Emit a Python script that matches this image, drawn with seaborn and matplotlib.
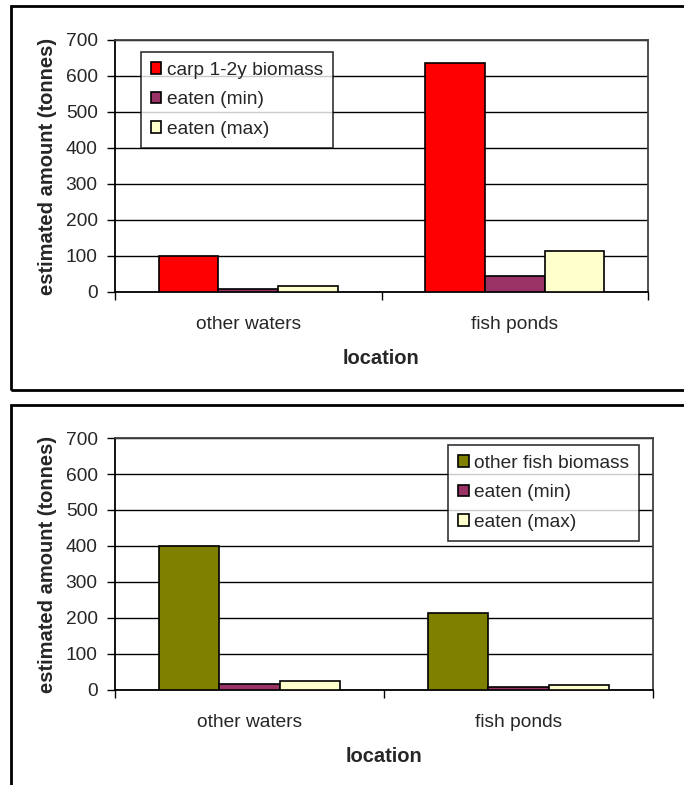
import numpy as np
import pandas as pd
import seaborn as sns
import matplotlib.pyplot as plt
from matplotlib.patches import Rectangle

locations = ["other waters", "fish ponds"]
yticks = [0, 100, 200, 300, 400, 500, 600, 700]

# top panel: carp
carp_labels = ["carp 1-2y biomass", "eaten (min)", "eaten (max)"]
carp_biomass = [100, 637]
carp_eaten_min = [8, 44]
carp_eaten_max = [18, 113]

# bottom panel: other fish
other_labels = ["other fish biomass", "eaten (min)", "eaten (max)"]
other_biomass = [400, 213]
other_eaten_min = [17, 8]
other_eaten_max = [26, 13]

carp_colors = ["#FF0000", "#993366", "#FFFFCC"]
other_colors = ["#808000", "#993366", "#FFFFCC"]

sns.set_style("white")
plt.rcParams["font.family"] = ["Liberation Sans", "DejaVu Sans"]

fig = plt.figure(figsize=(6.84, 7.85), dpi=100)

# outer chart-area frames (like the spreadsheet chart borders)
fig.add_artist(Rectangle((11 / 684, 1 - 390 / 785), 0.99, (390 - 6) / 785,
                         transform=fig.transFigure, fill=False, lw=2, ec="black"))
fig.add_artist(Rectangle((11 / 684, -0.05), 0.99, 0.05 + 1 - 405 / 785,
                         transform=fig.transFigure, fill=False, lw=2, ec="black"))


def make_df(labels, a, b, c):
    rows = []
    for i, loc in enumerate(locations):
        rows.append((loc, labels[0], a[i]))
        rows.append((loc, labels[1], b[i]))
        rows.append((loc, labels[2], c[i]))
    return pd.DataFrame(rows, columns=["location", "series", "value"])


def draw(ax, df, labels, colors, legend_loc, legend_anchor):
    sns.barplot(data=df, x="location", y="value", hue="series", hue_order=labels,
                palette=colors, order=locations, width=0.67, dodge=True,
                edgecolor="black", linewidth=1.2, saturation=1, ax=ax, zorder=3)
    ax.set_xlim(-0.5, 1.5)
    ax.set_ylim(0, 700)
    ax.set_yticks(yticks)
    ax.yaxis.grid(True, color="black", lw=1, zorder=0)
    ax.set_axisbelow(True)
    ax.tick_params(axis="y", left=True, direction="out", length=6, width=1,
                   labelsize=13.8, pad=6.5, color="black")
    ax.set_xticks([0, 1])
    ax.set_xticklabels(locations)
    ax.set_xticks([-0.5, 0.5, 1.5], minor=True)
    ax.tick_params(axis="x", which="major", length=0, labelsize=13.8, pad=17)
    ax.tick_params(axis="x", which="minor", bottom=True, direction="out",
                   length=6, width=1, color="black")
    for s in ["left", "bottom"]:
        ax.spines[s].set_color("black")
        ax.spines[s].set_linewidth(1.3)
    for s in ["top", "right"]:
        ax.spines[s].set_color("#404040")
        ax.spines[s].set_linewidth(1.3)
    ax.set_xlabel("location", fontsize=14.5, fontweight="bold")
    ax.set_ylabel("estimated amount (tonnes)", fontsize=14.5, fontweight="bold")
    ax.xaxis.set_label_coords(0.5, -0.227)
    ax.yaxis.set_label_coords(-0.108, 0.5)
    leg = ax.legend(loc=legend_loc, bbox_to_anchor=legend_anchor, fontsize=13.8,
                    frameon=True, fancybox=False, edgecolor="black",
                    handlelength=0.55, handleheight=0.55, handletextpad=0.3,
                    labelspacing=0.66, borderpad=0.5, borderaxespad=0)
    leg.get_frame().set_linewidth(1.2)
    leg.set_zorder(5)


ax1 = fig.add_axes([115 / 684, 1 - 292 / 785, 533 / 684, 252 / 785])
draw(ax1, make_df(carp_labels, carp_biomass, carp_eaten_min, carp_eaten_max),
     carp_labels, carp_colors, "upper left", (0.049, 0.952))

ax2 = fig.add_axes([115 / 684, 1 - 690 / 785, 538 / 684, 252 / 785])
draw(ax2, make_df(other_labels, other_biomass, other_eaten_min, other_eaten_max),
     other_labels, other_colors, "upper right", (0.974, 0.972))

fig.savefig("out.png", dpi=100)
